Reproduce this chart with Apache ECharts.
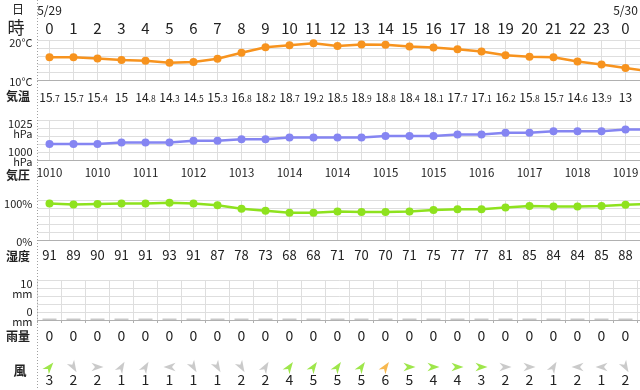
<!DOCTYPE html>
<html><head><meta charset="utf-8">
<script src="https://cdn.jsdelivr.net/npm/echarts@6/dist/echarts.min.js"></script>
<style>html,body{margin:0;padding:0;background:#fff}#c{width:640px;height:390px}</style>
</head><body><div id="c"></div>
<script>
// ---- data ----
const hourLabels = ['0','1','2','3','4','5','6','7','8','9','10','11','12','13','14','15','16','17','18','19','20','21','22','23','0','1'];
const dateLabels = ['5/29','','','','','','','','','','','','','','','','','','','','','','','','5/30',''];
const temperature = [15.7,15.7,15.4,15,14.8,14.3,14.5,15.3,16.8,18.2,18.7,19.2,18.5,18.9,18.8,18.4,18.1,17.7,17.1,16.2,15.8,15.7,14.6,13.9,13,12.2];
const pressure = [1010,1010,1010,1011,1011,1011,1012,1012,1013,1013,1014,1014,1014,1014,1015,1015,1015,1016,1016,1017,1017,1018,1018,1018,1019,1019];
const humidity = [91,89,90,91,91,93,91,87,78,73,68,68,71,70,70,71,75,77,77,81,85,84,84,85,88,90];
const rainfall = [0,0,0,0,0,0,0,0,0,0,0,0,0,0,0,0,0,0,0,0,0,0,0,0,0,0];
const windSpeed = [3,2,2,1,1,1,1,1,2,2,4,5,5,5,6,5,4,4,3,2,2,1,2,1,2,2];
// direction the arrow points to (compass degrees, 0 = up, clockwise)
const windDir = [40,150,90,30,30,270,150,150,150,30,35,35,35,35,35,90,90,90,90,90,90,30,270,270,150,150];
const tempTicks = ['10°C','20°C'];
const pressureTicks = ['1000','1025'];
const humidityTicks = ['0%','100%'];
const rainTicks = ['0','10'];

// ---- helpers ----
const FONT = "'Noto Sans CJK JP','Noto Sans',sans-serif";
const TXT = '#222';
const GRIDC = '#dedede';
function windColor(s){ return s >= 6 ? '#f5a623' : (s >= 3 ? '#86e01e' : '#bdbdbd'); }
function fmtTemp(v){
  const s = String(v); const p = s.split('.');
  return p.length > 1 ? '{i|' + p[0] + '}{d|.' + p[1] + '}' : '{i|' + p[0] + '}';
}
const gridLine = {lineStyle:{color:GRIDC, width:1}};
const axisDark = {show:true, lineStyle:{color:'#b0b0b0', width:1}};
function baseX(grid, extra){
  return Object.assign({
    type:'category', gridIndex:grid, data:hourLabels, boundaryGap:true, position:'bottom',
    axisLine:axisDark, axisTick:{show:false}, splitLine:{show:false}
  }, extra);
}
// vertical guide lines through every hour column (placed by the category scale)
function colLines(){
  return {silent:true, symbol:'none', z:1, animation:false, label:{show:false},
    emphasis:{disabled:true},
    lineStyle:{color:GRIDC, width:1, type:'solid'},
    data:hourLabels.map(function(h, i){ return {xAxis:i}; })};
}

const LEFT = 37.5;
const grids = [
  {left:LEFT, top:40, width:624, height:40},
  {left:LEFT, top:120, width:624, height:40},
  {left:LEFT, top:200, width:624, height:40},
  {left:LEFT, top:280, width:624, height:40},
  {left:LEFT, top:362, width:624, height:10}
].map(g => Object.assign({outerBoundsMode:'none', containLabel:false}, g));

const yLabelBase = {margin:5, color:TXT, fontFamily:FONT, fontSize:11};

const option = {
  animation:false,
  backgroundColor:'#fff',
  textStyle:{fontFamily:FONT, color:TXT},
  grid:grids,
  xAxis:[
    // 0: hours + dates on top
    {type:'category', gridIndex:0, data:hourLabels, position:'top', boundaryGap:true,
     axisLine:{show:false}, axisTick:{show:false}, splitLine:{show:false},
     axisLabel:{interval:0, margin:3, verticalAlign:'bottom',
       formatter:function(v, i){ return '{d|' + (dateLabels[i] || ' ') + '}\n{h|' + v + '}'; },
       rich:{d:{fontSize:12, lineHeight:18, color:TXT, fontFamily:FONT}, h:{fontSize:15, lineHeight:18, color:TXT, fontFamily:FONT}}}},
    // 1: temperature
    baseX(0, {axisLabel:{interval:0, margin:16, verticalAlign:'middle',
       formatter:function(v, i){ return fmtTemp(temperature[i]); },
       rich:{i:{fontSize:12, lineHeight:15, verticalAlign:'bottom', color:TXT, fontFamily:FONT},
             d:{fontSize:8.5, lineHeight:15, verticalAlign:'bottom', color:TXT, fontFamily:FONT}}}}),
    // 2: pressure
    baseX(1, {axisLabel:{interval:1, margin:12.5, verticalAlign:'middle', fontSize:11.5, color:TXT, fontFamily:FONT,
       formatter:function(v, i){ return String(pressure[i]); }}}),
    // 3: humidity
    baseX(2, {axisLabel:{interval:0, margin:15.5, verticalAlign:'middle', fontSize:13, color:TXT, fontFamily:FONT,
       formatter:function(v, i){ return String(humidity[i]); }}}),
    // 4: rain
    baseX(3, {axisLabel:{interval:0, margin:15.5, verticalAlign:'middle', fontSize:14, color:TXT, fontFamily:FONT,
       formatter:function(v, i){ return String(rainfall[i]); }}}),
    // 5: rain column boundaries (value scale over the same 26 columns)
    {type:'value', gridIndex:3, min:0, max:hourLabels.length, interval:1, position:'bottom',
     axisLine:{show:false}, axisLabel:{show:false},
     axisTick:{show:true, length:3, lineStyle:{color:'#b0b0b0'}},
     splitLine:{show:true, lineStyle:{color:GRIDC, width:1}}},
    // 6: wind
    baseX(4, {axisLine:{show:false},
       axisLabel:{interval:0, margin:8, verticalAlign:'middle', fontSize:14, color:TXT, fontFamily:FONT,
       formatter:function(v, i){ return String(windSpeed[i]); }}})
  ],
  yAxis:[
    {type:'value', gridIndex:0, min:10, max:20, interval:2, axisLine:{show:false}, axisTick:{show:false}, splitLine:gridLine,
     axisLabel:Object.assign({}, yLabelBase, {
       formatter:function(v){ return v === 20 ? '{st| }\n{a|' + tempTicks[1] + '}' : (v === 10 ? '{sb| }\n{a|' + tempTicks[0] + '}' : ''); },
       rich:{a:{fontSize:11, lineHeight:12, color:TXT, fontFamily:FONT}, st:{fontSize:1, lineHeight:6.6}, sb:{fontSize:1, lineHeight:3.4}}})},
    {type:'value', gridIndex:1, min:1000, max:1025, interval:5, axisLine:{show:false}, axisTick:{show:false}, splitLine:gridLine,
     axisLabel:Object.assign({}, yLabelBase, {
       formatter:function(v){ return v === 1025 ? '{st| }\n{a|' + pressureTicks[1] + '}\n{a|hPa}' : (v === 1000 ? '{a|' + pressureTicks[0] + '}\n{a|hPa}\n{sb| }' : ''); },
       rich:{a:{fontSize:11, lineHeight:10.5, color:TXT, fontFamily:FONT}, st:{fontSize:1, lineHeight:17.4}, sb:{fontSize:1, lineHeight:6.6}}})},
    {type:'value', gridIndex:2, min:0, max:100, interval:20, axisLine:{show:false}, axisTick:{show:false}, splitLine:gridLine,
     axisLabel:Object.assign({}, yLabelBase, {
       formatter:function(v){ return v === 100 ? '{st| }\n{a|' + humidityTicks[1] + '}' : (v === 0 ? '{sb| }\n{a|' + humidityTicks[0] + '}' : ''); },
       rich:{a:{fontSize:11, lineHeight:12, color:TXT, fontFamily:FONT}, st:{fontSize:1, lineHeight:8}, sb:{fontSize:1, lineHeight:3.4}}})},
    {type:'value', gridIndex:3, min:0, max:10, interval:2, axisLine:{show:false}, axisTick:{show:false}, splitLine:gridLine,
     axisLabel:Object.assign({}, yLabelBase, {
       formatter:function(v){ return v === 10 ? '{st| }\n{a|' + rainTicks[1] + '}\n{a|mm}' : (v === 0 ? '{a|' + rainTicks[0] + '}\n{a|mm}\n{sb| }' : ''); },
       rich:{a:{fontSize:11, lineHeight:10.5, color:TXT, fontFamily:FONT}, st:{fontSize:1, lineHeight:17.4}, sb:{fontSize:1, lineHeight:6.6}}})},
    {type:'value', gridIndex:4, min:0, max:1, show:false}
  ],
  series:[
    {type:'line', xAxisIndex:1, yAxisIndex:0, data:temperature, symbol:'circle', symbolSize:8, z:3,
     itemStyle:{color:'#f7931e'}, lineStyle:{color:'#f7931e', width:2.5}, markLine:colLines()},
    {type:'line', xAxisIndex:2, yAxisIndex:1, data:pressure, symbol:'circle', symbolSize:8, z:3,
     itemStyle:{color:'#8585f2'}, lineStyle:{color:'#8585f2', width:2.5}, markLine:colLines()},
    {type:'line', xAxisIndex:3, yAxisIndex:2, data:humidity, symbol:'circle', symbolSize:8, z:3,
     itemStyle:{color:'#8ee21e'}, lineStyle:{color:'#8ee21e', width:2.5}, markLine:colLines()},
    {type:'bar', xAxisIndex:4, yAxisIndex:3, data:rainfall, barWidth:14, barMinHeight:1.5, itemStyle:{color:'#c8c8c8'}},
    {type:'scatter', xAxisIndex:6, yAxisIndex:4,
     symbol:'path://M0,0 L5,12 L0,8.5 L-5,12 Z', symbolSize:[10,12], symbolKeepAspect:true,
     data:windSpeed.map(function(s, i){ return {value:[i, 0.5], symbolRotate:-windDir[i], itemStyle:{color:windColor(s)}}; })}
  ],
  graphic:[
    {type:'line', shape:{x1:37.5, y1:0, x2:37.5, y2:390}, style:{stroke:'#a0a0a0', lineWidth:1, lineDash:[1,2]}, z:10},
    {type:'text', x:18, y:9, style:{text:'日', fontSize:12, fill:TXT, fontFamily:FONT, align:'center', verticalAlign:'middle'}},
    {type:'text', x:16, y:27.5, style:{text:'時', fontSize:17, fill:TXT, fontFamily:FONT, align:'center', verticalAlign:'middle'}},
    {type:'text', x:18, y:96.5, style:{text:'気温', fontSize:12, fontWeight:'bold', fill:TXT, fontFamily:FONT, align:'center', verticalAlign:'middle'}},
    {type:'text', x:18, y:175, style:{text:'気圧', fontSize:12, fontWeight:'bold', fill:TXT, fontFamily:FONT, align:'center', verticalAlign:'middle'}},
    {type:'text', x:18, y:256, style:{text:'湿度', fontSize:12, fontWeight:'bold', fill:TXT, fontFamily:FONT, align:'center', verticalAlign:'middle'}},
    {type:'text', x:18, y:336, style:{text:'雨量', fontSize:12, fontWeight:'bold', fill:TXT, fontFamily:FONT, align:'center', verticalAlign:'middle'}},
    {type:'text', x:20, y:370, style:{text:'風', fontSize:13, fontWeight:'bold', fill:TXT, fontFamily:FONT, align:'center', verticalAlign:'middle'}}
  ]
};
const chart = echarts.init(document.getElementById('c'), null, {renderer:'canvas'});
chart.setOption(option);
</script>
</body></html>
